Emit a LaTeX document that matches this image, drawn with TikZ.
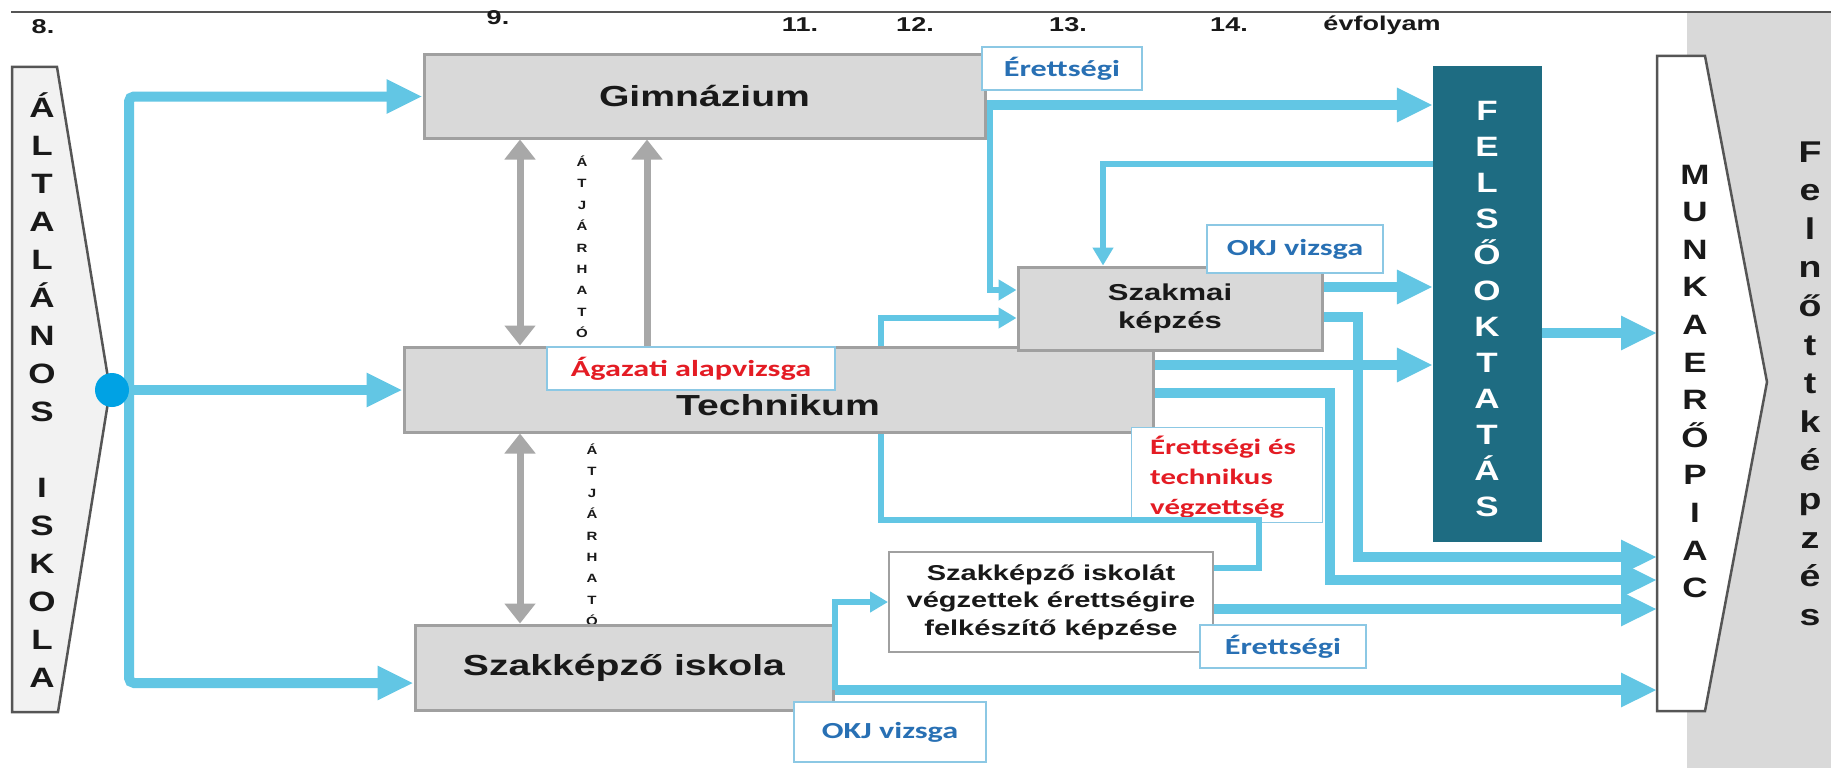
\documentclass[tikz,border=0pt]{standalone}
\usepackage{fontspec}
\setmainfont{Liberation Sans}
\newfontfamily\fArial[FakeStretch=1.35]{Liberation Sans}
\newfontfamily\fArialN[FakeStretch=1.25]{Liberation Sans}
\newfontfamily\fCarl[FakeStretch=1.4]{Carlito}
\usetikzlibrary{arrows.meta}
\definecolor{blueline}{RGB}{98,198,228}
\definecolor{dotblue}{RGB}{0,162,228}
\definecolor{boxgray}{RGB}{217,217,217}
\definecolor{boxedge}{RGB}{160,160,160}
\definecolor{felteal}{RGB}{30,108,130}
\definecolor{redtxt}{RGB}{228,28,36}
\definecolor{bluetxt}{RGB}{40,112,180}
\definecolor{lbledge}{RGB}{140,200,228}
\definecolor{darkedge}{RGB}{85,85,85}
\definecolor{arrgray}{RGB}{168,168,168}
\definecolor{bggray}{RGB}{217,217,217}
\definecolor{txtdark}{RGB}{25,25,25}
\definecolor{ltfill}{RGB}{242,242,242}
\newcommand\fntBox{\fArial\bfseries\fontsize{29}{33}\selectfont}
\newcommand\fntSzm{\fArial\bfseries\fontsize{23}{28}\selectfont}
\newcommand\fntSze{\fArial\bfseries\fontsize{21.5}{27.5}\selectfont}
\newcommand\fntLbl{\fCarl\bfseries\fontsize{23}{27}\selectfont}
\newcommand\fntEtv{\fCarl\bfseries\fontsize{22}{30}\selectfont}
\newcommand\fntYr{\fArial\bfseries\fontsize{20}{24}\selectfont}
\newcommand\fntStk{\fArialN\bfseries\fontsize{28}{30}\selectfont}
\newcommand\fntStkL{\fArialN\bfseries\fontsize{30}{32}\selectfont}
\newcommand\fntAtj{\fArialN\bfseries\fontsize{12}{14}\selectfont}
\begin{document}
\begin{tikzpicture}[x=1pt,y=-1pt,
  gbox/.style={draw=boxedge, fill=boxgray, line width=3pt, inner sep=0pt, text=txtdark},
  lbl/.style={draw=lbledge, fill=white, line width=1.5pt, inner sep=0pt, text=bluetxt, font=\fntLbl},
  yr/.style={text=txtdark, font=\fntYr, inner sep=0pt},
  stk/.style={font=\fntStk, inner sep=0pt, anchor=base, text=txtdark},
  atj/.style={font=\fntAtj, inner sep=0pt, anchor=base, text=txtdark},
  big/.style={draw=blueline, line width=10pt, -{Triangle[length=36pt,width=32pt]}},
  sm/.style={draw=blueline, line width=6pt, -{Triangle[length=18pt,width=20pt]}},
  plain/.style={draw=blueline, line width=6pt},
  gar/.style={draw=arrgray, line width=7pt},
  shapeline/.style={draw=darkedge, line width=2.5pt, line join=miter}
]
\useasboundingbox (0,0) rectangle (1831,768);
\fill[white] (0,0) rectangle (1831,768);
\fill[bggray] (1687,12) rectangle (1831,768);
\draw[darkedge, line width=2pt] (11,12) -- (1831,12);

% year labels
\node[yr] (y8) at (43,27) {8.};
\node[yr] (y9) at (498,18) {9.};
\node[yr] (y11) at (800,25) {11.};
\node[yr] (y12) at (915,25) {12.};
\node[yr] (y13) at (1068,25) {13.};
\node[yr] (y14) at (1229,25) {14.};
\node[yr] (yev) at (1382,25) {évfolyam};

% left shape
\draw[shapeline, fill=ltfill] (12,67) -- (57,67) -- (110,390) -- (58,712) -- (12,712) -- cycle;
\foreach \l/\k in {Á/0,L/1,T/2,A/3,L/4,Á/5,N/6,O/7,S/8,I/10,S/11,K/12,O/13,L/14,A/15}
  \node[stk] (alt\k) at (42,107+\k*38+10) {\l};

% right shape
\draw[shapeline, fill=white] (1657,56) -- (1705,56) -- (1767,382) -- (1705,711) -- (1657,711) -- cycle;
\foreach \l [count=\k from 0] in {M,U,N,K,A,E,R,Ő,P,I,A,C}
  \node[stk] (mk\k) at (1695,174+\k*37.6+10) {\l};
\foreach \l [count=\k from 0] in {F,e,l,n,ő,t,t,k,é,p,z,é,s}
  \node[stk, font=\fntStkL] (fk\k) at (1810,152+\k*38.6+10) {\l};

% atjarhato letters
\foreach \l [count=\k from 0] in {Á,T,J,Á,R,H,A,T,Ó}
  \node[atj] (atu\k) at (582,162+\k*21.4+4.5) {\l};
\foreach \l [count=\k from 0] in {Á,T,J,Á,R,H,A,T,Ó}
  \node[atj] (atl\k) at (592,450+\k*21.4+4.5) {\l};

% boxes
\node[gbox, minimum width=561pt, minimum height=83pt, font=\fntBox] (gim) at (704.5,96.5) {Gimnázium};
\node[gbox, minimum width=749pt, minimum height=85pt] (tech) at (778.5,389.5) {};
\node[gbox, minimum width=418pt, minimum height=85pt, font=\fntBox] (szki) at (624,667.5) {Szakképző iskola};
\node[gbox, minimum width=304pt, minimum height=83pt, font=\fntSzm, align=center] (szm) at (1170,308.5) {Szakmai\\képzés};
\node[draw=boxedge, fill=white, line width=2pt, inner sep=0pt, minimum width=324pt, minimum height=100pt, font=\fntSze, align=center, text=txtdark] (sze) at (1051,602) {Szakképző iskolát\\végzettek érettségire\\felkészítő képzése};
\node[fill=felteal, minimum width=109pt, minimum height=476pt, inner sep=0pt] (fel) at (1487.5,304) {};
\foreach \l [count=\k from 0] in {F,E,L,S,Ő,O,K,T,A,T,Á,S}
  \node[stk, text=white] (fl\k) at (1487,110+\k*36+10) {\l};

% label boxes
\node[lbl, minimum width=288pt, minimum height=43pt, text=redtxt] (aga) at (691,368.5) {Ágazati alapvizsga};
\node[font=\fntBox, text=txtdark, inner sep=0pt] (techtxt) at (778,405) {Technikum};
\node[lbl, minimum width=160pt, minimum height=43pt] (er1) at (1062,68.5) {Érettségi};
\node[lbl, minimum width=176pt, minimum height=48pt] (okj1) at (1295,249) {OKJ vizsga};
\node[lbl, minimum width=166pt, minimum height=43pt] (er2) at (1283,646.5) {Érettségi};
\node[lbl, minimum width=192pt, minimum height=60pt] (okj2) at (890,732) {OKJ vizsga};
\node[draw=lbledge, line width=1pt, fill=white, minimum width=191pt, minimum height=95pt, inner sep=0pt] (etv) at (1226.5,474.5) {};
\node[font=\fntEtv, text=redtxt, align=left, anchor=west, inner sep=0pt] (etvtxt) at (1150,477) {Érettségi és\\technikus\\végzettség};

% coordinates
\coordinate (trM) at (129,390);
\coordinate (trB) at (129,683);
\coordinate (gA) at (990,105);
\coordinate (gB) at (990,290);
\coordinate (fA) at (1103,164);
\coordinate (sA) at (1330,287);
\coordinate (sB) at (1358,317);
\coordinate (tA) at (1200,365);
\coordinate (tB) at (1330,393);
\coordinate (tC) at (881,318);
\coordinate (tD) at (881,520);
\coordinate (tE) at (1259,568);
\coordinate (fB) at (1542,333);
\coordinate (mA) at (1657,557);
\coordinate (mB) at (1657,580);
\coordinate (mC) at (1657,333);
\coordinate (mD) at (1657,609);
\coordinate (mE) at (1657,690);
\coordinate (ax1) at (520,240);
\coordinate (ax2) at (647,240);

% blue connectors
\draw[big, rounded corners=5pt] (trM) |- (gim.west);
\draw[big, rounded corners=5pt] (trM) |- (szki.west |- trB);
\node[circle, fill=dotblue, minimum size=34pt, inner sep=0pt] (dot) at (112,390) {};
\draw[big] (dot.east) -- (tech.west |- dot.center);
\draw[big] (gim.east |- gA) -- (fel.west |- gA);
\draw[sm] (gA) |- (szm.west |- gB);
\draw[sm] (fel.west |- fA) -| (fA |- szm.north);
\draw[big] (szm.east |- sA) -- (fel.west |- sA);
\draw[big] (szm.east |- sB) -- (sB) |- (mA);
\draw[big] (tech.east |- tA) -- (fel.west |- tA);
\draw[big] (tech.east |- tB) -- (tB) |- (mB);
\draw[sm] (tech.north -| tC) |- (szm.west |- tC);
\draw[plain] (tech.south -| tD) -- (tD) -| (tE) -- (sze.east |- tE);
\draw[big] (fel.east |- fB) -- (mC);
\draw[big] (sze.east |- mD) -- (mD);
\draw[big] (szki.east |- mE) -- (mE);
\draw[sm] (szki.east |- mE) |- (sze.west);

% gray arrows
\draw[gar, {Triangle[length=20pt,width=30pt]}-{Triangle[length=20pt,width=30pt]}] (gim.south -| ax1) -- (tech.north -| ax1);
\draw[gar, -{Triangle[length=20pt,width=30pt]}] (tech.north -| ax2) -- (gim.south -| ax2);
\draw[gar, {Triangle[length=20pt,width=30pt]}-{Triangle[length=20pt,width=30pt]}] (tech.south -| ax1) -- (szki.north -| ax1);
\end{tikzpicture}
\end{document}
